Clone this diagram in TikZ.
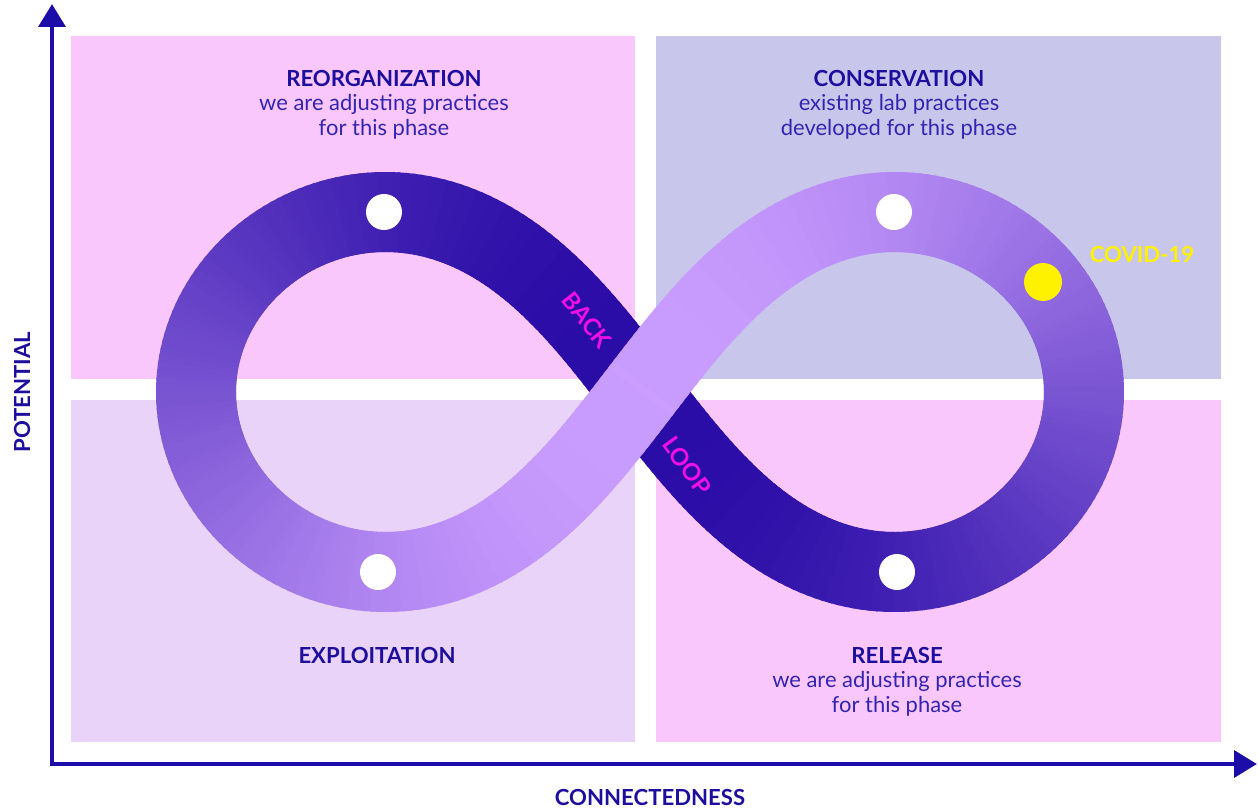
\documentclass[tikz,border=0pt]{standalone}
\usepackage{fontspec}
\setmainfont{Lato}
\usetikzlibrary{arrows.meta,positioning}

\definecolor{axisblue}{HTML}{1C0CA8}
\definecolor{headblue}{HTML}{1E0E9E}
\definecolor{noteblue}{HTML}{3424B2}
\definecolor{pinkbox}{HTML}{F9C7FC}
\definecolor{lilacbox}{HTML}{C9C6EC}
\definecolor{palebox}{HTML}{EAD3F8}
\definecolor{lightband}{HTML}{CA9DFF}
\definecolor{darkband}{HTML}{2A0CA6}
\definecolor{loopmagenta}{HTML}{F20FE6}
\definecolor{covidyellow}{HTML}{FFF200}

\begin{document}
\begin{tikzpicture}[x=0.02cm,y=-0.02cm,>={Triangle[length=13pt,width=15pt]},
  axis/.style={draw=axisblue,line width=2.8pt},
  band/.style={line width=1.6cm,line cap=butt},
  phase/.style={text=headblue,font=\bfseries\fontsize{12.6}{15}\selectfont,inner sep=0pt},
  note/.style={text=noteblue,font=\fontsize{12.5}{14.2}\selectfont,align=center,inner sep=0pt},
  dot/.style={circle,fill=white,minimum size=0.72cm,inner sep=0pt},
  loopword/.style={text=loopmagenta,font=\bfseries\fontsize{13.5}{15}\selectfont,inner sep=0pt},
  declare function={fx(\s)=640+402*sin(\s)-42*sin(3*\s); fy(\s)=392-180*sin(2*\s);}]

  \useasboundingbox (0,0) rectangle (1258,808);

  % quadrants
  \fill[pinkbox]  (71,36)  rectangle (635,379);
  \fill[lilacbox] (656,36) rectangle (1221,379);
  \fill[palebox]  (71,400) rectangle (635,742);
  \fill[pinkbox]  (656,400) rectangle (1221,742);

  % axes
  \coordinate (origin) at (52,764);
  \coordinate (ytip)   at (52,4);
  \coordinate (xtip)   at (1257,764);
  \draw[axis,<->] (ytip) -- (origin) -- (xtip);
  \node[phase,rotate=90] (potential) at (22,392) {POTENTIAL};
  \node[phase] (connected) at (650,797) {CONNECTEDNESS};

  % the loop, shaded along its length
  \foreach \t in {90,91,...,449}{
    \pgfmathtruncatemacro\mix{50+50*cos(\t)}
    \draw[band,color=lightband!\mix!darkband]
      plot[domain=\t:\t+1.6,samples=3,variable=\s] ({fx(\s)},{fy(\s)});
  }

  \node[dot] (reorgdot)   at (384,212) {};
  \node[dot] (exploitdot) at (378,572) {};
  \node[dot] (consdot)    at (894,212) {};
  \node[dot] (releasedot) at (897,572) {};
  \node[dot,fill=covidyellow,minimum size=0.76cm] (covid) at (1043,282) {};
  \node[phase,text=covidyellow] (covidlabel) at (1142,254) {COVID-19};

  \node[loopword,rotate=-52] (back) at (587,320) {BACK};
  \node[loopword,rotate=-54] (loop) at (687,466) {LOOP};

  % phases
  \node[phase] (reorg) at (384,78) {REORGANIZATION};
  \node[note,below=4pt of reorg] (reorgnote) {we are adjusting practices\\for this phase};
  \node[phase] (cons) at (899,78) {CONSERVATION};
  \node[note,below=4pt of cons] (consnote) {existing lab practices\\developed for this phase};
  \node[phase] (exploit) at (377,655) {EXPLOITATION};
  \node[phase] (release) at (897,655) {RELEASE};
  \node[note,below=4pt of release] (releasenote) {we are adjusting practices\\for this phase};
\end{tikzpicture}
\end{document}
